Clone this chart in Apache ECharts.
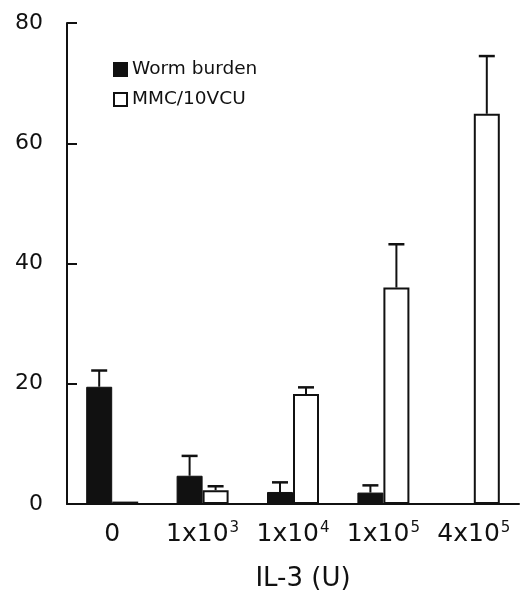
<!DOCTYPE html>
<html>
<head>
<meta charset="utf-8">
<script src="https://cdn.jsdelivr.net/npm/echarts@6/dist/echarts.min.js"></script>
<style>
  html, body { margin: 0; padding: 0; background: #fff; }
  #chart { width: 531px; height: 595px; }
</style>
</head>
<body>
<div id="chart"></div>
<script>
// IL-3 dose groups
const categories = ['0', '1x10|3', '1x10|4', '1x10|5', '4x10|5']
// worm burden bars and their error tops
const wormBurden = [19.5, 4.7, 2.0, 1.9, null]
const wormBurdenErr = [22.2, 8.0, 3.6, 3.1, null]
// MMC/10VCU bars and their error tops
const mmc = [0.4, 2.3, 18.3, 36.0, 64.9]
const mmcErr = [null, 2.95, 19.4, 43.2, 74.5]
const yTicks = [0, 20, 40, 60, 80]

const font = '"DejaVu Sans", Verdana, sans-serif'
const ink = '#111'
const barW = 26

function errData(vals, errs) {
  const out = []
  vals.forEach((v, i) => {
    if (v != null && errs[i] != null) out.push([i, errs[i], v])
  })
  return out
}

function errSeries(data, shift) {
  return {
    type: 'custom',
    z: 5,
    data: data,
    renderItem: (params, api) => {
      const i = api.value(0)
      const top = api.coord([i, api.value(1)])
      const base = api.coord([i, api.value(2)])
      const x = top[0] + shift
      return {
        type: 'group',
        children: [
          { type: 'line', shape: { x1: x, y1: base[1], x2: x, y2: top[1] }, style: { stroke: ink, lineWidth: 2 } },
          { type: 'line', shape: { x1: x - 8, y1: top[1], x2: x + 8, y2: top[1] }, style: { stroke: ink, lineWidth: 2.5 } }
        ]
      }
    }
  }
}

const chart = echarts.init(document.getElementById('chart'))
chart.setOption({
  animation: false,
  textStyle: { fontFamily: font },
  grid: { left: 67, right: 12, top: 23, bottom: 91, containLabel: false, outerBoundsMode: 'none' },
  legend: {
    data: ['Worm burden', 'MMC/10VCU'],
    orient: 'vertical',
    left: 108,
    top: 55,
    icon: 'rect',
    itemWidth: 13,
    itemHeight: 13,
    itemGap: 11,
    textStyle: { fontSize: 18.5, color: ink, fontFamily: font }
  },
  xAxis: {
    type: 'category',
    data: categories,
    boundaryGap: true,
    name: 'IL-3 (U)',
    nameLocation: 'middle',
    nameGap: 62,
    nameTextStyle: { fontSize: 26, color: ink, fontFamily: font, padding: [0, 0, 0, 20] },
    axisLine: { lineStyle: { color: ink, width: 2 } },
    axisTick: { inside: true, length: 10, lineStyle: { color: ink, width: 2 } },
    axisLabel: {
      margin: 17,
      interval: 0,
      formatter: v => {
        const p = v.split('|')
        return p.length > 1 ? '{b|' + p[0] + '}{s|' + p[1] + '}' : '{b|' + p[0] + '}'
      },
      rich: {
        b: { fontSize: 25, lineHeight: 27, color: ink, fontFamily: font },
        s: { fontSize: 15, lineHeight: 15, color: ink, fontFamily: font, verticalAlign: 'top', padding: [0, 0, 0, 1] }
      }
    }
  },
  yAxis: {
    type: 'value',
    min: 0,
    max: 80,
    interval: 20,
    splitLine: { show: false },
    axisLine: { show: true, lineStyle: { color: ink, width: 2 } },
    axisTick: { show: true, inside: true, length: 10, lineStyle: { color: ink, width: 2 } },
    axisLabel: {
      margin: 24,
      fontSize: 22,
      color: ink,
      fontFamily: font,
      formatter: v => yTicks.includes(v) ? String(v) : ''
    }
  },
  series: [
    {
      name: 'Worm burden',
      type: 'bar',
      data: wormBurden,
      barWidth: barW,
      barGap: '0%',
      itemStyle: { color: ink, borderColor: ink, borderWidth: 1 }
    },
    {
      name: 'MMC/10VCU',
      type: 'bar',
      data: mmc,
      barWidth: barW,
      barGap: '0%',
      itemStyle: { color: '#fff', borderColor: ink, borderWidth: 2 }
    },
    errSeries(errData(wormBurden, wormBurdenErr), -barW / 2),
    errSeries(errData(mmc, mmcErr), barW / 2)
  ]
})
</script>
</body>
</html>
